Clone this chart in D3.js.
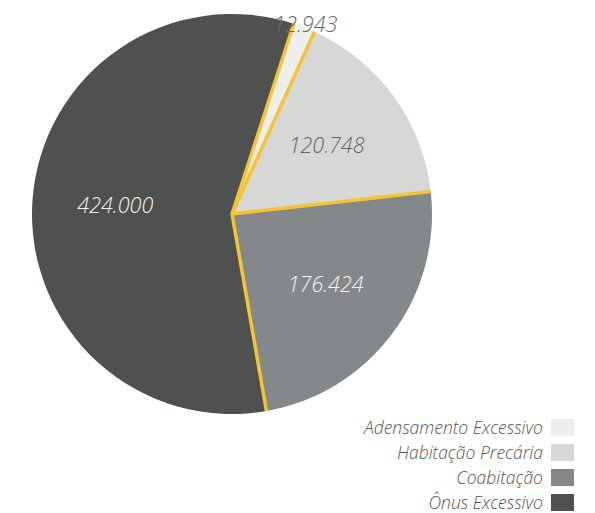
<!DOCTYPE html>
<html>
<head>
<meta charset="utf-8">
<script src="https://cdn.jsdelivr.net/npm/d3@7"></script>
<style>
  html, body { margin: 0; padding: 0; background: #ffffff; }
  svg { display: block; }
  text { font-family: "Open Sans", "Noto Sans", sans-serif; font-style: italic; font-weight: 300; }
</style>
</head>
<body>
<svg id="chart" width="595" height="513"></svg>
<script>
// Housing deficit components
const categories = ["Adensamento Excessivo", "Habitação Precária", "Coabitação", "Ônus Excessivo"];
const values = [12943, 120748, 176424, 424000];
const valueLabels = ["12.943", "120.748", "176.424", "424.000"];
const colors = ["#eeeeec", "#d6d8d5", "#85888a", "#4f5150"];
const labelColors = ["#666666", "#666666", "#f2f2f2", "#f2f2f2"];

const svg = d3.select("#chart");
const cx = 232, cy = 214, radius = 200;
const startDeg = 18;

const data = categories.map((c, i) => ({ category: c, value: values[i], label: valueLabels[i], color: colors[i], labelColor: labelColors[i] }));

const pie = d3.pie()
  .sort(null)
  .value(d => d.value)
  .startAngle(startDeg * Math.PI / 180)
  .endAngle(startDeg * Math.PI / 180 + 2 * Math.PI);

const arcs = pie(data);
const arc = d3.arc().innerRadius(0).outerRadius(radius);
const labelArc = d3.arc().innerRadius(117).outerRadius(117);
const outerLabelArc = d3.arc().innerRadius(203).outerRadius(203);

const g = svg.append("g").attr("transform", `translate(${cx},${cy})`);

g.selectAll("path.slice")
  .data(arcs)
  .enter().append("path")
  .attr("class", "slice")
  .attr("d", arc)
  .attr("fill", d => d.data.color);

// yellow separators along each slice boundary
g.selectAll("line.sep")
  .data(arcs)
  .enter().append("line")
  .attr("class", "sep")
  .attr("x1", 0).attr("y1", 0)
  .attr("x2", d => radius * Math.sin(d.startAngle))
  .attr("y2", d => -radius * Math.cos(d.startAngle))
  .attr("stroke", "#f5c431")
  .attr("stroke-width", 3.5);

// value labels
g.selectAll("text.val")
  .data(arcs)
  .enter().append("text")
  .attr("class", "val")
  .attr("transform", d => {
    const small = (d.endAngle - d.startAngle) < 0.3;
    const p = small ? outerLabelArc.centroid(d) : labelArc.centroid(d);
    return `translate(${p[0]},${p[1]})`;
  })
  .attr("text-anchor", "middle")
  .attr("dy", "0.35em")
  .attr("font-size", 21.5)
  .attr("fill", d => d.data.labelColor)
  .text(d => d.data.label);

// legend
const legend = svg.append("g");
const rowY = d3.scaleBand().domain(categories).range([419, 519]);
const row = legend.selectAll("g.row")
  .data(data)
  .enter().append("g")
  .attr("class", "row")
  .attr("transform", d => `translate(0,${rowY(d.category)})`);

row.append("rect")
  .attr("x", 551).attr("y", 0)
  .attr("width", 23).attr("height", 17)
  .attr("fill", d => d.color);

row.append("text")
  .attr("x", 543).attr("y", 8.5)
  .attr("dy", "0.35em")
  .attr("text-anchor", "end")
  .attr("font-size", 17.5)
  .attr("fill", "#555555")
  .text(d => d.category);
</script>
</body>
</html>
